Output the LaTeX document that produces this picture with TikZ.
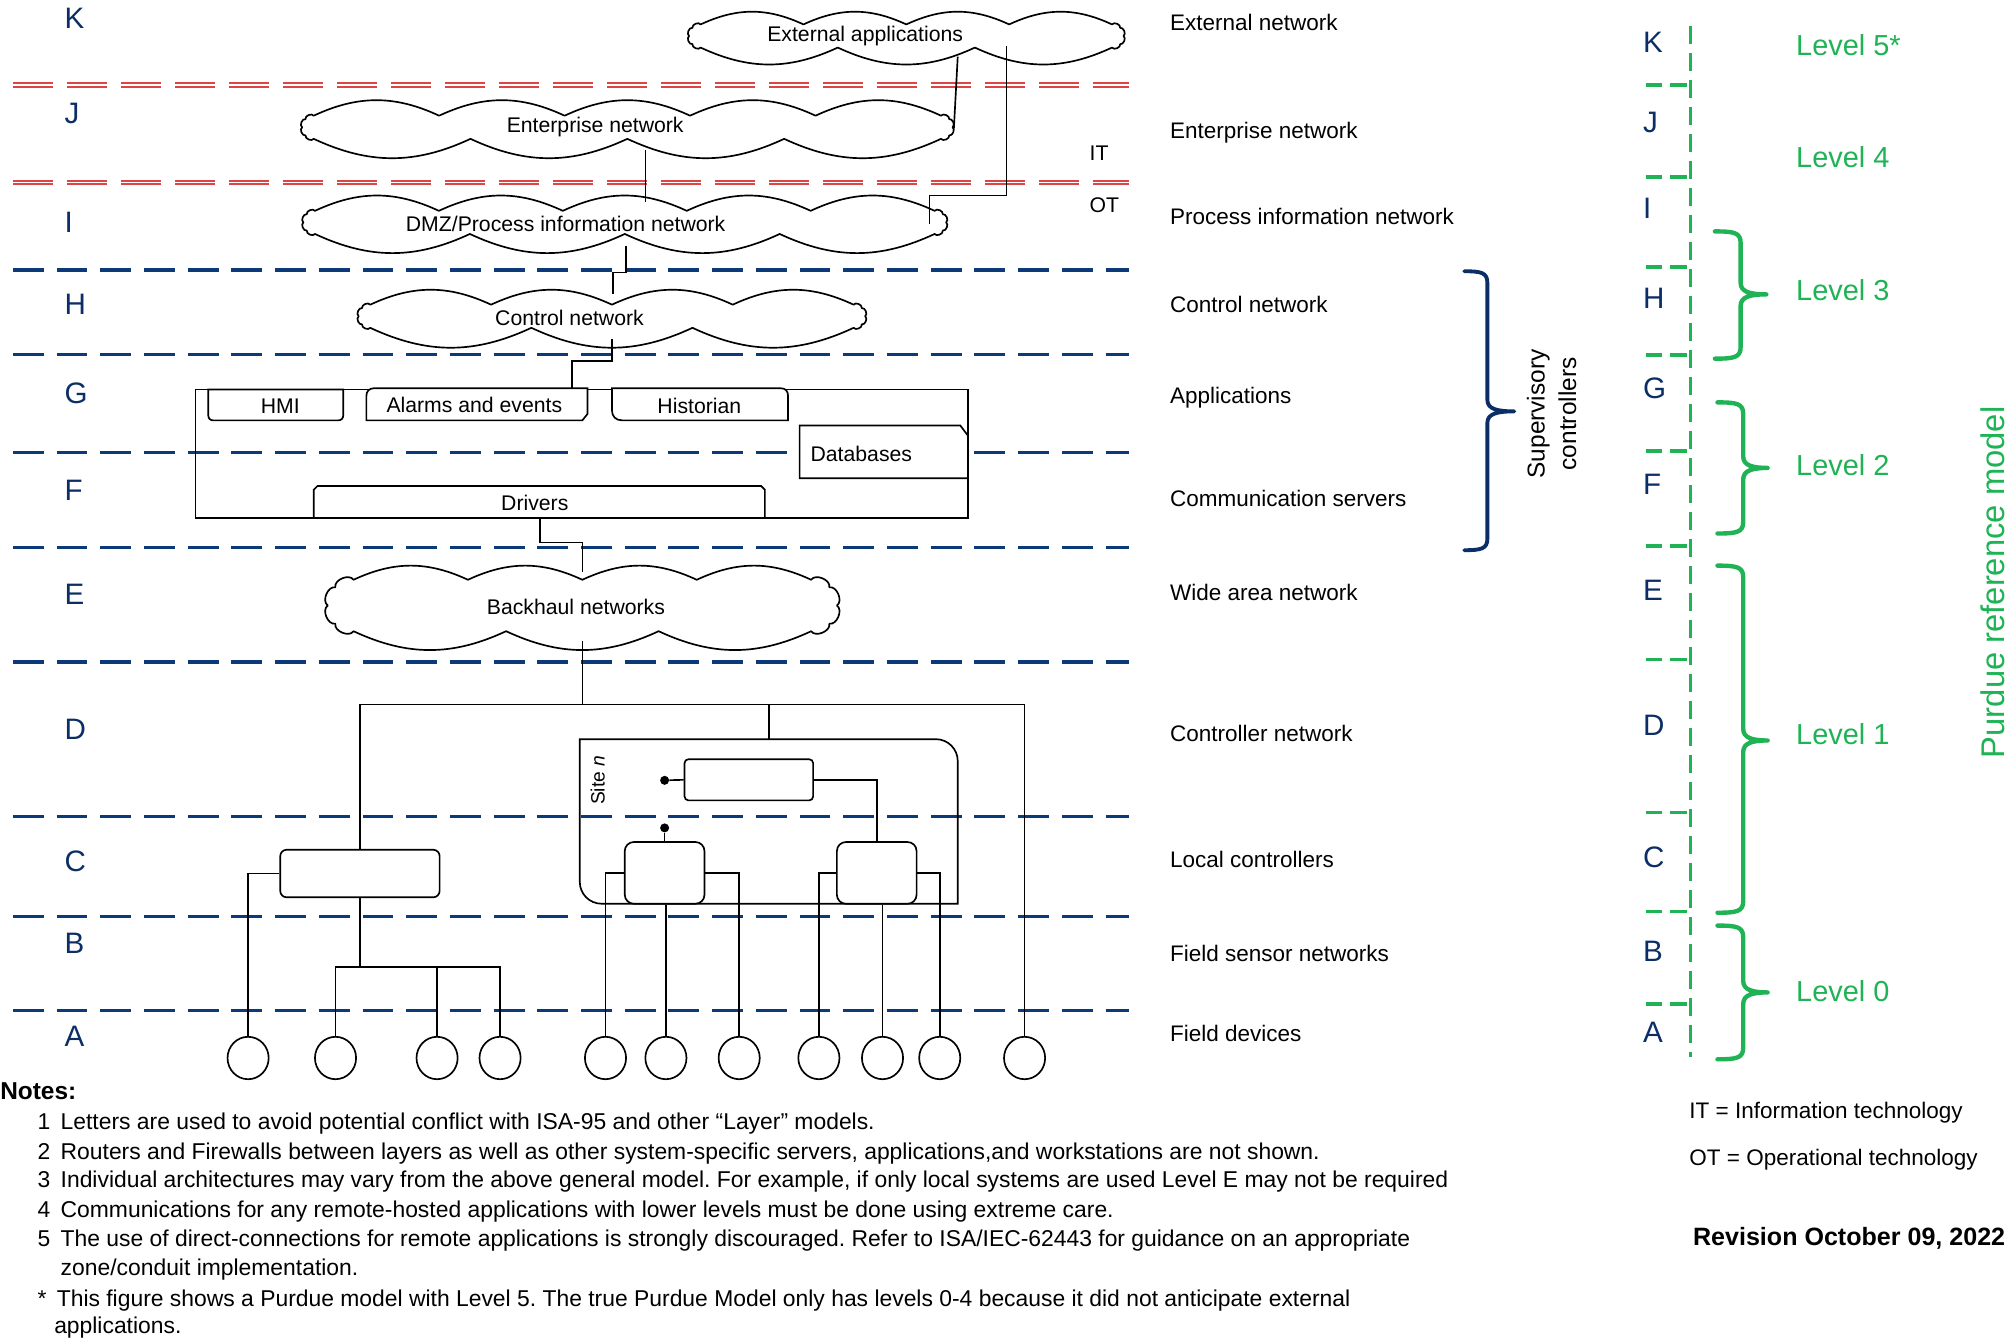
\documentclass[tikz,border=0pt]{standalone}
\usepackage{fontspec}
\setmainfont{Liberation Sans}
\usetikzlibrary{shapes.geometric}
\definecolor{navy}{HTML}{0B2E66}
\definecolor{dashblue}{HTML}{0C3A78}
\definecolor{pgreen}{HTML}{1FB355}
\definecolor{pred}{HTML}{DD4444}
\newcommand\pbrace[8]{% color, xl, xv, xt, ytop, ytip, ybot, width
  \draw[#1, line width=#8, line join=round, line cap=round]
    (#2,#5) .. controls ({#3-5},#5) and (#3,{#5+1}) .. (#3,{#5+9})
    -- (#3,{#6-9}) .. controls (#3,{#6-2}) and ({#3+7},#6) .. (#4,#6)
    .. controls ({#3+7},#6) and (#3,{#6+2}) .. (#3,{#6+9})
    -- (#3,{#7-9}) .. controls (#3,{#7-1}) and ({#3-5},#7) .. (#2,#7);}
\newcommand\cloudpath[8]{% cx, cy, a, h, ntop, nbot, bend, name
  \coordinate (#8) at (#1,#2);
  \filldraw[fill=white, line width=1.3pt, line join=round]
   ({#1-#3-#4},#2) to[bend left=80] ({#1-#3-0.707*#4},{#2-0.707*#4}) to[bend left=80] ({#1-#3},{#2-#4})
   \foreach \k in {1,...,#5} { to[bend left=#7] ({#1-#3+2*#3*\k/#5},{#2-#4}) }
   to[bend left=80] ({#1+#3+0.707*#4},{#2-0.707*#4}) to[bend left=80] ({#1+#3+#4},#2)
   to[bend left=80] ({#1+#3+0.707*#4},{#2+0.707*#4}) to[bend left=80] ({#1+#3},{#2+#4})
   \foreach \k in {1,...,#6} { to[bend left=#7] ({#1+#3-2*#3*\k/#6},{#2+#4}) }
   to[bend left=80] ({#1-#3-0.707*#4},{#2+0.707*#4}) to[bend left=80] ({#1-#3-#4},#2) -- cycle;}
\begin{document}
\frenchspacing
\begin{tikzpicture}[x=1pt,y=-1pt,
  lab/.style={font=\fontsize{17.5}{21}\selectfont, anchor=base west, inner sep=0pt},
  letter/.style={font=\fontsize{23}{27}\selectfont, text=navy, anchor=base west, inner sep=0pt},
  lvl/.style={font=\fontsize{22.5}{27}\selectfont, text=pgreen, anchor=base west, inner sep=0pt},
  intext/.style={font=\fontsize{16.5}{20}\selectfont, inner sep=0pt},
  note/.style={font=\fontsize{17.8}{21}\selectfont, anchor=base west, inner sep=0pt},
  wire/.style={line width=1.3pt},
  bx/.style={draw, line width=1.3pt, fill=white},
  ctl/.style={draw, line width=1.3pt, rounded corners=5pt, inner sep=0pt, fill=white},
  dev/.style={ellipse, draw, line width=1.3pt, minimum width=32pt, minimum height=33pt, inner sep=0pt},
  dotn/.style={circle, fill, inner sep=0pt, minimum size=7pt},
  bluedash/.style={dashblue, line width=2.6pt, dash pattern=on 24pt off 10pt},
  redA/.style={pred, line width=4.2pt, dash pattern=on 31pt off 11pt},
  redB/.style={white, line width=1.1pt, dash pattern=on 31pt off 11pt},
  gdash/.style={pgreen, line width=3pt, dash pattern=on 14pt off 7pt},
  gtick/.style={pgreen, line width=3pt, dash pattern=on 13pt off 6pt}
]
\useasboundingbox (0,0) rectangle (1562,1040.8);
\fill[white] (0,0) rectangle (1562,1040.8);

% layer separators
\foreach \y in {210,276,352,426,515,635,713,786} \draw[bluedash] (10,\y) -- (878,\y);
\foreach \y in {66,142} {\draw[redA] (10,\y) -- (878,\y); \draw[redB] (10,\y) -- (878,\y);}

% left letters
\node[letter] (lK) at (50,22) {K};
\node[letter] (lJ) at (50,96) {J};
\node[letter] (lI) at (50,181) {I};
\node[letter] (lH) at (50,245) {H};
\node[letter] (lG) at (50,314) {G};
\node[letter] (lF) at (50,389) {F};
\node[letter] (lE) at (50,470) {E};
\node[letter] (lD) at (50,575) {D};
\node[letter] (lC) at (50,678) {C};
\node[letter] (lB) at (50,742) {B};
\node[letter] (lA) at (50,814) {A};

% clouds
\cloudpath{705}{28}{160}{9}{4}{3}{25}{ext}
\cloudpath{488}{99}{244}{9}{5}{4}{25}{ent}
\cloudpath{486}{173}{241}{9}{5}{4}{25}{dmz}
\cloudpath{476}{246}{188}{9}{4}{3}{25}{ctn}
\cloudpath{453}{471}{178}{20}{4}{3}{25}{bh}
\node[intext] (extT) at (673,28) {External applications};
\node[intext] (entT) at (463,99) {Enterprise network};
\node[intext] (dmzT) at (440,174) {DMZ/Process information network};
\node[intext] (ctnT) at (443,247) {Control network};
\node[intext] (bhT) at (448,472) {Backhaul networks};

% cloud ports
\coordinate (extP1) at (745,44);
\coordinate (entP1) at (742,100);
\coordinate (extP2) at (783,36);
\coordinate (dmzP1) at (723,174);
\coordinate (entP2) at (502,117);
\coordinate (dmzP2) at (502,157);
\coordinate (dmzP3) at (487,191);
\coordinate (ctnP1) at (477,229);
\coordinate (ctnP2) at (476,264);
\coordinate (bhP1) at (453,445);
\coordinate (bhP2) at (453,499);

\draw[wire] (extP1) -- (entP1);
\draw[wire] (extP2) |- (723,152) -- (dmzP1);
\draw[wire] (entP2) -- (dmzP2);
\draw[wire] (dmzP3) |- (477,212) -- (ctnP1);

% application box
\draw[line width=1.3pt] (152,303) rectangle (753,403);
\coordinate (boxtop) at (445,303);
\coordinate (drvbot) at (420,403);
\draw[wire] (ctnP2) |- (boxtop |- 0,281) -- (boxtop);
\draw[bx] (162,303) -- (267,303) -- (267,323) .. controls (267,325.5) and (265.5,327) .. (263,327)
  -- (166,327) .. controls (163.5,327) and (162,325.5) .. (162,323) -- cycle;
\node[intext] (hmi) at (218,316) {HMI};
\draw[bx] (285,327) -- (285,308) .. controls (285,304.5) and (287,302) .. (291,302)
  -- (457,302) -- (457,322) -- (453,327) -- cycle;
\node[intext] (alm) at (369,315) {Alarms and events};
\draw[bx] (476,302) -- (607,302) .. controls (611,302) and (613,304) .. (613,308)
  -- (613,327) -- (484,327) .. controls (479,327) and (476,324) .. (476,319) -- cycle;
\node[intext] (his) at (544,316) {Historian};
\draw[bx] (622,331) -- (747,331) -- (753,339) -- (753,372) -- (622,372) -- cycle;
\node[intext] (dbs) at (670,353) {Databases};
\draw[bx] (244,403) -- (244,381) -- (247,378) -- (592,378) -- (595,381) -- (595,403) -- cycle;
\node[intext] (drv) at (416,391) {Drivers};

\draw[wire] (drvbot) |- (bhP1 |- 0,422) -- (bhP1);

% controller network
\coordinate (dl) at (280,548);
\coordinate (sitetop) at (598,575);
\draw[line width=1.3pt] (451,575) -- (728,575) .. controls (737.4,575) and (745,582.6) .. (745,592)
  -- (745,703) -- (468,703) .. controls (458.6,703) and (451,695.4) .. (451,686) -- cycle;
\node[rotate=90, font=\fontsize{15}{18}\selectfont, inner sep=0pt] (site) at (465,607) {Site \textit{n}};

\node[ctl, minimum width=124pt, minimum height=37pt] (lc) at (280,679.5) {};
\node[ctl, minimum width=100pt, minimum height=32pt, rounded corners=3pt] (su) at (582.5,606.6) {};
\node[ctl, minimum width=62pt, minimum height=48pt, rounded corners=7pt] (sl) at (517,679) {};
\node[ctl, minimum width=62pt, minimum height=48pt, rounded corners=7pt] (sr) at (682,679) {};
\node[dotn] (d1) at (517,607) {};
\node[dotn] (d2) at (517,644) {};

\foreach \i/\x in {1/193,2/261,3/340,4/389,5/471,6/518,7/575,8/637,9/686.5,10/731,11/797}
  \node[dev] (e\i) at (\x,823) {};

\draw[wire] (bhP2) -- (bhP2 |- dl);
\draw[wire] (lc.north) |- (e11.north |- dl) -- (e11.north);
\draw[wire] (sitetop) -- (sitetop |- dl);
\coordinate (bus) at (280,752);
\draw[wire] (lc.west) -| (e1.north);
\draw[wire] (lc.south) -- (bus);
\draw[wire] (e2.north) |- (e4.north |- bus) -- (e4.north);
\draw[wire] (e3.north) -- (e3.north |- bus);
\draw[wire] (d1) -- (su.west);
\draw[wire] (su.east) -| (sr.north);
\draw[wire] (d2) -- (sl.north);
\draw[wire] (sl.west) -| (e5.north);
\draw[wire] (e6.north |- sl.south) -- (e6.north);
\draw[wire] (sl.east) -| (e7.north);
\draw[wire] (sr.west) -| (e8.north);
\draw[wire] (e9.north |- sr.south) -- (e9.north);
\draw[wire] (sr.east) -| (e10.north);

% IT / OT
\node[intext] (it) at (855,119) {IT};
\node[intext] (ot) at (859,160) {OT};

% right labels
\node[lab] (n1) at (910,24) {External network};
\node[lab] (n2) at (910,108) {Enterprise network};
\node[lab] (n3) at (910,175) {Process information network};
\node[lab] (n4) at (910,243) {Control network};
\node[lab] (n5) at (910,314) {Applications};
\node[lab] (n6) at (910,394) {Communication servers};
\node[lab] (n7) at (910,467) {Wide area network};
\node[lab] (n8) at (910,577) {Controller network};
\node[lab] (n9) at (910,675) {Local controllers};
\node[lab] (n10) at (910,748) {Field sensor networks};
\node[lab] (n11) at (910,810) {Field devices};

% supervisory brace
\pbrace{navy}{1139}{1157}{1178}{211}{320}{428}{3pt}
\node[rotate=90, align=center, font=\fontsize{19}{24.5}\selectfont, inner sep=0pt] (sup) at (1207,322) {Supervisory\\controllers};

% Purdue scale
\draw[gdash] (1315,20) -- (1315,822);
\foreach \y in {66,138,208,276,351,425,513,632,709,781} \draw[gtick] (1280,\y) -- (1316.5,\y);
\node[letter] (rK) at (1278,41) {K};
\node[letter] (rJ) at (1278,103) {J};
\node[letter] (rI) at (1278,170) {I};
\node[letter] (rH) at (1278,240) {H};
\node[letter] (rG) at (1278,310) {G};
\node[letter] (rF) at (1278,385) {F};
\node[letter] (rE) at (1278,467) {E};
\node[letter] (rD) at (1278,572) {D};
\node[letter] (rC) at (1278,675) {C};
\node[letter] (rB) at (1278,748) {B};
\node[letter] (rA) at (1278,811) {A};

\pbrace{pgreen}{1334}{1354}{1374}{180}{229}{279}{3.4pt}
\pbrace{pgreen}{1336}{1356}{1375}{313}{364}{415}{3.4pt}
\pbrace{pgreen}{1336}{1356}{1375}{440}{576}{710}{3.4pt}
\pbrace{pgreen}{1336}{1356}{1375}{720}{772}{824}{3.4pt}

\node[lvl] (L5) at (1397,43) {Level 5*};
\node[lvl] (L4) at (1397,130) {Level 4};
\node[lvl] (L3) at (1397,234) {Level 3};
\node[lvl] (L2) at (1397,370) {Level 2};
\node[lvl] (L1) at (1397,579) {Level 1};
\node[lvl] (L0) at (1397,779) {Level 0};
\node[rotate=90, anchor=base, text=pgreen, font=\fontsize{25.5}{30}\selectfont, inner sep=0pt] (prm) at (1559,453) {Purdue reference model};

% legend
\node[lab] (itl) at (1314,870) {IT = Information technology};
\node[lab] (otl) at (1314,907) {OT = Operational technology};
\node[lab, anchor=base east, font=\fontsize{19.5}{23}\selectfont\bfseries] (rev) at (1560,969) {Revision October 09, 2022};

% notes
\node[note, font=\fontsize{19}{23}\selectfont\bfseries] (notes) at (0,855) {Notes:};
\node[note] (k1) at (29,879) {1};
\node[note] (t1) at (47,879) {Letters are used to avoid potential conflict with ISA-95 and other “Layer” models.};
\node[note] (k2) at (29,902) {2};
\node[note] (t2) at (47,902) {Routers and Firewalls between layers as well as other system-specific servers, applications,and workstations are not shown.};
\node[note] (k3) at (29,924) {3};
\node[note] (t3) at (47,924) {Individual architectures may vary from the above general model. For example, if only local systems are used Level E may not be required};
\node[note] (k4) at (29,947) {4};
\node[note] (t4) at (47,947) {Communications for any remote-hosted applications with lower levels must be done using extreme care.};
\node[note] (k5) at (29,970) {5};
\node[note] (t5) at (47,970) {The use of direct-connections for remote applications is strongly discouraged. Refer to ISA/IEC-62443 for guidance on an appropriate};
\node[note] (t5b) at (47,992) {zone/conduit implementation.};
\node[note] (k6) at (29,1016) {*};
\node[note] (t6) at (44,1016) {This figure shows a Purdue model with Level 5. The true Purdue Model only has levels 0-4 because it did not anticipate external};
\node[note] (t6b) at (42,1037) {applications.};
\end{tikzpicture}
\end{document}
